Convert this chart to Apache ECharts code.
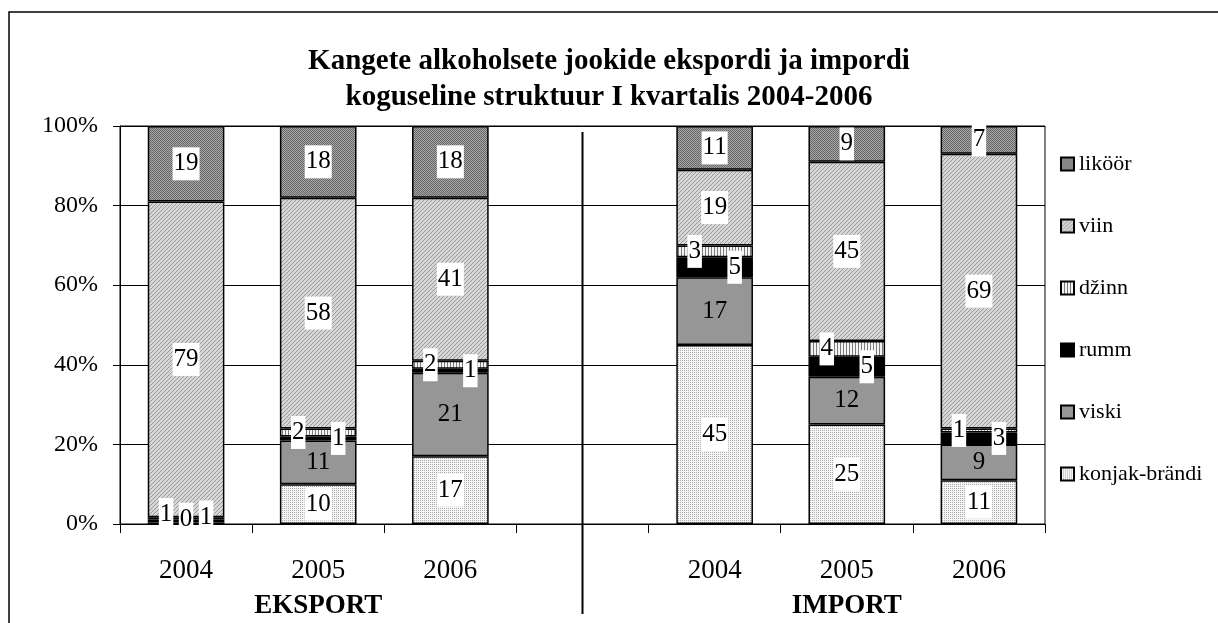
<!DOCTYPE html>
<html>
<head>
<meta charset="utf-8">
<script src="https://cdn.jsdelivr.net/npm/echarts@6/dist/echarts.min.js"></script>
<style>
html, body { margin: 0; padding: 0; background: #fff; }
#container { width: 1218px; height: 623px; }
</style>
</head>
<body>
<div id="container"></div>
<script>
// categories: 3 export years, a gap, 3 import years
var categories = ['2004', '2005', '2006', '', '2004', '2005', '2006'];
var groupLabels = ['', 'EKSPORT', '', '', '', 'IMPORT', ''];
var seriesNames = ['konjak-brändi', 'viski', 'rumm', 'džinn', 'viin', 'liköör'];

// shares in %, bottom to top of the stack
var konjak = [0, 10, 17, null, 45, 25, 11];
var viski = [0.4, 11, 21, null, 17, 12, 9];
var rumm = [0.7, 1, 1, null, 5, 5, 3];
var dzinn = [0.6, 2, 2, null, 3, 4, 1];
var viin = [79.3, 58, 41, null, 19, 45, 69];
var likoor = [19, 18, 18, null, 11, 9, 7];

var FONT = '"Liberation Serif", "Times New Roman", serif';

function pattern(w, h, draw) {
    var c = document.createElement('canvas');
    c.width = w;
    c.height = h;
    draw(c.getContext('2d'));
    return { image: c, repeat: 'repeat' };
}

var fills = {
    konjak: pattern(2, 2, function (ctx) {
        ctx.fillStyle = '#f6f6f6'; ctx.fillRect(0, 0, 2, 2);
        ctx.fillStyle = '#ababab'; ctx.fillRect(0, 0, 1, 1);
    }),
    viski: '#969696',
    rumm: '#000000',
    dzinn: pattern(3, 1, function (ctx) {
        ctx.fillStyle = '#f4f4f4'; ctx.fillRect(0, 0, 3, 1);
        ctx.fillStyle = '#7c7c7c'; ctx.fillRect(0, 0, 1, 1);
    }),
    viin: pattern(4, 4, function (ctx) {
        ctx.fillStyle = '#d6d6d6'; ctx.fillRect(0, 0, 4, 4);
        ctx.fillStyle = '#9a9a9a';
        for (var i = 0; i < 4; i++) ctx.fillRect(i, 3 - i, 1, 1);
    }),
    likoor: pattern(2, 2, function (ctx) {
        ctx.fillStyle = '#a8a8a8'; ctx.fillRect(0, 0, 2, 2);
        ctx.fillStyle = '#666666'; ctx.fillRect(0, 0, 1, 1); ctx.fillRect(1, 1, 1, 1);
    })
};

var stackBase = [0, 0, 0, 0, 0, 0, 0];
var barSeries = [];
var labelSeries = [];

// each segment is a bar; its number is drawn by a transparent twin bar
// on a second, overlapping stack so that no later bar covers the labels
function addSeries(name, values, fill, dx, whiteBox) {
    var labelData = values.map(function (v, i) {
        if (v === null) return null;
        var top = stackBase[i] + v;
        stackBase[i] = top;
        var item = { value: v, label: { offset: [dx, top < 3 ? -4 : 0] } };
        if (v < 1) item.label.backgroundColor = '#fff';
        if (v < 0.05) item.label.show = false;
        return item;
    });
    barSeries.push({
        name: name,
        type: 'bar',
        stack: 'total',
        barWidth: '58%',
        barGap: '-100%',
        itemStyle: { color: fill, borderColor: '#000', borderWidth: 1.5 },
        emphasis: { disabled: true },
        data: values
    });
    labelSeries.push({
        name: name + ' (label)',
        type: 'bar',
        stack: 'labels',
        barWidth: '58%',
        barGap: '-100%',
        z: 10,
        silent: true,
        itemStyle: { color: 'transparent', borderWidth: 0 },
        label: {
            show: true,
            position: 'inside',
            formatter: function (p) { return Math.round(p.value); },
            fontFamily: FONT,
            fontSize: 25,
            color: '#000',
            backgroundColor: whiteBox ? '#fff' : 'transparent',
            padding: [5, 1, 3, 1]
        },
        emphasis: { disabled: true },
        data: labelData
    });
}

addSeries('konjak-brändi', konjak, fills.konjak, 0, true);
addSeries('viski', viski, fills.viski, 0, false);
addSeries('rumm', rumm, fills.rumm, 20, true);
addSeries('džinn', dzinn, fills.dzinn, -20, true);
addSeries('viin', viin, fills.viin, 0, true);
addSeries('liköör', likoor, fills.likoor, 0, true);

var dom = document.getElementById('container');
var myChart = echarts.init(dom, null, { renderer: 'canvas' });

var option = {
    animation: false,
    title: {
        text: 'Kangete alkoholsete jookide ekspordi ja impordi\nkoguseline struktuur I kvartalis 2004-2006',
        left: 'center',
        top: 39,
        textStyle: {
            fontFamily: FONT,
            fontWeight: 'bold',
            fontSize: 29,
            lineHeight: 36,
            color: '#000'
        }
    },
    legend: {
        orient: 'vertical',
        left: 1055,
        top: 148,
        icon: 'rect',
        itemWidth: 13,
        itemHeight: 13,
        itemGap: 40,
        selectedMode: false,
        data: ['liköör', 'viin', 'džinn', 'rumm', 'viski', 'konjak-brändi'],
        textStyle: { fontFamily: FONT, fontSize: 22, color: '#000' }
    },
    grid: {
        left: 120,
        right: 173,
        top: 126,
        height: 398,
        show: true,
        borderColor: '#000',
        borderWidth: 1
    },
    xAxis: [
        {
            type: 'category',
            data: categories,
            axisLine: { lineStyle: { color: '#000', width: 1 } },
            axisTick: { show: true, length: 9, lineStyle: { color: '#000' } },
            axisLabel: { interval: 0, margin: 33, fontFamily: FONT, fontSize: 27, color: '#000' }
        },
        {
            type: 'category',
            position: 'bottom',
            data: groupLabels,
            axisLine: { show: false },
            axisTick: { show: false },
            axisLabel: { interval: 0, margin: 69, fontFamily: FONT, fontSize: 27, fontWeight: 'bold', color: '#000' }
        }
    ],
    yAxis: {
        type: 'value',
        min: 0,
        max: 100,
        interval: 20,
        axisLine: { show: true, lineStyle: { color: '#000' } },
        axisTick: { show: true, length: 7, lineStyle: { color: '#000' } },
        axisLabel: { formatter: '{value}%', margin: 22, fontFamily: FONT, fontSize: 24, color: '#000' },
        splitLine: { lineStyle: { color: '#000', width: 1 } }
    },
    graphic: [
        {
            type: 'rect',
            shape: { x: 9, y: 12, width: 1400, height: 800 },
            style: { fill: 'none', stroke: '#000', lineWidth: 1.5 },
            silent: true
        }
    ],
    series: barSeries.concat(labelSeries)
};

myChart.setOption(option);

// divider between the export and import groups, through the empty category
var sepX = myChart.convertToPixel({ xAxisIndex: 0 }, 3);
var sepTop = myChart.convertToPixel({ yAxisIndex: 0 }, 100) + 6;
myChart.setOption({
    graphic: [
        option.graphic[0],
        {
            type: 'line',
            shape: { x1: sepX, y1: sepTop, x2: sepX, y2: 614 },
            style: { stroke: '#000', lineWidth: 2 },
            silent: true
        }
    ]
});

window.addEventListener('resize', myChart.resize);
</script>
</body>
</html>
